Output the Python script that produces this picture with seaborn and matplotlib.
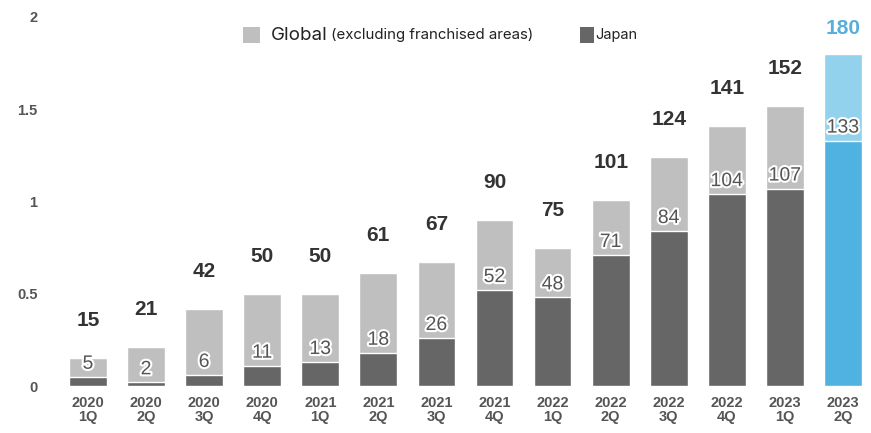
import matplotlib
matplotlib.use("Agg")
import matplotlib.pyplot as plt
import matplotlib.patheffects as pe
from matplotlib.patches import Rectangle
import numpy as np
import pandas as pd
import seaborn as sns

# Quarterly figures: total (Global excl. franchised areas) and the Japan share
quarters = ["2020\n1Q", "2020\n2Q", "2020\n3Q", "2020\n4Q",
            "2021\n1Q", "2021\n2Q", "2021\n3Q", "2021\n4Q",
            "2022\n1Q", "2022\n2Q", "2022\n3Q", "2022\n4Q",
            "2023\n1Q", "2023\n2Q"]
totals = [15, 21, 42, 50, 50, 61, 67, 90, 75, 101, 124, 141, 152, 180]
japan = [5, 2, 6, 11, 13, 18, 26, 52, 48, 71, 84, 104, 107, 133]
y_ticks = [0, 0.5, 1, 1.5, 2]
y_tick_labels = ["0", "0.5", "1", "1.5", "2"]

SCALE = 100.0  # axis unit: 1.0 on the axis = 100

GLOBAL_GRAY = "#bfbfbf"
JAPAN_GRAY = "#666666"
HL_LIGHT = "#92d2ec"
HL_DARK = "#4fb2e0"
HL_TEXT = "#5aaedb"

sns.set_theme(style="white")
plt.rcParams["font.family"] = ["Liberation Sans", "DejaVu Sans"]

df = pd.DataFrame({
    "quarter": quarters,
    "total": np.array(totals) / SCALE,
    "japan": np.array(japan) / SCALE,
})

n = len(quarters)
total_colors = [GLOBAL_GRAY] * (n - 1) + [HL_LIGHT]
japan_colors = [JAPAN_GRAY] * (n - 1) + [HL_DARK]

W, H = 871, 433
fig = plt.figure(figsize=(W / 100, H / 100), dpi=100)
ax = fig.add_axes([50 / W, 47 / H, (866 - 50) / W, (386 - 17) / H])

sns.barplot(data=df, x="quarter", y="total", hue="quarter",
            palette=total_colors, legend=False, width=0.65,
            saturation=1, ax=ax)
sns.barplot(data=df, x="quarter", y="japan", hue="quarter",
            palette=japan_colors, legend=False, width=0.65,
            saturation=1, ax=ax)

ax.set_xlim(-0.654, n - 1 + 0.396)
ax.set_ylim(0, 2)
ax.set_yticks(y_ticks)
ax.set_yticklabels(y_tick_labels)
ax.set_xlabel("")
ax.set_ylabel("")
ax.tick_params(axis="y", length=0, pad=9, labelsize=10.5, labelcolor="#555555")
ax.tick_params(axis="x", length=0, pad=7, labelsize=10.5, labelcolor="#555555")
for lbl in ax.get_xticklabels():
    lbl.set_linespacing(1.0)
    lbl.set_fontweight("bold")
for lbl in ax.get_yticklabels():
    lbl.set_fontweight("bold")
sns.despine(ax=ax, left=True, bottom=True)

outline = [pe.withStroke(linewidth=3, foreground="white")]
for i, (t, j) in enumerate(zip(totals, japan)):
    last = i == n - 1
    ax.annotate(str(t), (i, t / SCALE), xytext=(0, 18 if last else 27),
                textcoords="offset points", ha="center", va="center",
                fontsize=15, fontweight="bold",
                color=HL_TEXT if last else "#333333", annotation_clip=False)
    ax.annotate(str(j), (i, j / SCALE), xytext=(0, 9),
                textcoords="offset points", ha="center", va="center",
                fontsize=14, color="#555555", path_effects=outline)

# Legend across the top
fig.add_artist(Rectangle((243 / W, 1 - 43 / H), 17 / W, 16 / H,
                         transform=fig.transFigure, color=GLOBAL_GRAY, lw=0))
fig.text(271 / W, 1 - 35 / H, "Global", fontsize=13.5, family="Inter",
         va="center", ha="left", color="#222222")
fig.text(331 / W, 1 - 35 / H, "(excluding franchised areas)", fontsize=10.8,
         family="Inter", va="center", ha="left", color="#222222")
fig.add_artist(Rectangle((580 / W, 1 - 43 / H), 14 / W, 16 / H,
                         transform=fig.transFigure, color=JAPAN_GRAY, lw=0))
fig.text(595 / W, 1 - 35 / H, "Japan", fontsize=10.5, family="Inter",
         va="center", ha="left", color="#222222")

fig.savefig("out.png", dpi=100)
